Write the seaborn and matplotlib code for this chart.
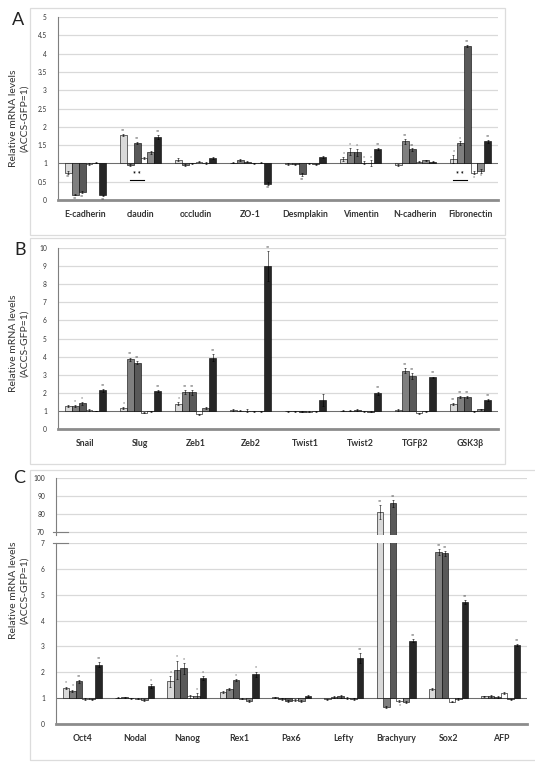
import matplotlib
matplotlib.use('Agg')

import numpy as np
import pandas as pd
import seaborn as sns
import matplotlib.pyplot as plt
from matplotlib.patches import Rectangle
from matplotlib.ticker import FormatStrFormatter

# --- series (six bars per gene, drawn from a baseline of 1) ---
series = ['s1', 's2', 's3', 's4', 's5', 's6']
colors = ['#d9d9d9', '#7f7f7f', '#595959', '#ffffff', '#8c8c8c', '#262626']

# --- panel A ---
a_genes = ['E-cadherin', 'claudin', 'occludin', 'ZO-1',
           'Desmplakin', 'Vimentin', 'N-cadherin', 'Fibronectin']
a_values = [
    [0.75, 0.15, 0.22, 0.98, 1.02, 0.13],
    [1.77, 0.95, 1.55, 1.15, 1.30, 1.72],
    [1.10, 0.95, 1.00, 1.05, 1.02, 1.15],
    [1.02, 1.10, 1.05, 1.00, 1.02, 0.45],
    [0.98, 0.97, 0.70, 1.00, 0.97, 1.17],
    [1.12, 1.32, 1.30, 1.02, 1.00, 1.40],
    [0.95, 1.60, 1.38, 1.05, 1.08, 1.05],
    [1.12, 1.55, 4.20, 0.75, 0.80, 1.60],
]
a_errors = [
    [0.03, 0.02, 0.03, 0.02, 0.02, 0.02],
    [0.03, 0.02, 0.03, 0.02, 0.05, 0.05],
    [0.04, 0.03, 0.02, 0.02, 0.03, 0.03],
    [0.02, 0.03, 0.02, 0.02, 0.02, 0.03],
    [0.02, 0.02, 0.05, 0.02, 0.02, 0.02],
    [0.05, 0.10, 0.10, 0.05, 0.08, 0.03],
    [0.03, 0.06, 0.03, 0.02, 0.02, 0.02],
    [0.10, 0.05, 0.03, 0.05, 0.05, 0.05],
]
a_marks = [
    ['**', '**', '**', '', '', '**'],
    ['**', '', '**', '', '', '**'],
    ['', '', '', '', '', ''],
    ['', '', '', '', '', '**'],
    ['', '', '**', '', '', ''],
    ['*', '*', '*', '*', '*', '**'],
    ['', '**', '**', '', '', ''],
    ['*', '*', '**', '*', '*', '**'],
]

# --- panel B ---
b_genes = ['Snail', 'Slug', 'Zeb1', 'Zeb2', 'Twist1', 'Twist2', 'TGFβ2', 'GSK3β']
b_values = [
    [1.25, 1.28, 1.42, 1.05, 1.00, 2.15],
    [1.15, 3.85, 3.65, 0.90, 0.97, 2.08],
    [1.40, 2.05, 2.02, 0.82, 1.15, 3.95],
    [1.05, 1.00, 1.02, 0.98, 0.97, 9.00],
    [0.98, 0.97, 0.96, 0.95, 0.98, 1.60],
    [1.00, 1.02, 1.05, 0.97, 0.95, 1.97],
    [1.05, 3.22, 2.92, 0.88, 0.97, 2.85],
    [1.38, 1.75, 1.75, 0.98, 1.08, 1.62],
]
b_errors = [
    [0.05, 0.05, 0.08, 0.03, 0.02, 0.08],
    [0.05, 0.10, 0.08, 0.03, 0.02, 0.05],
    [0.10, 0.10, 0.12, 0.03, 0.05, 0.20],
    [0.08, 0.03, 0.08, 0.03, 0.02, 0.85],
    [0.03, 0.03, 0.03, 0.03, 0.03, 0.35],
    [0.03, 0.03, 0.03, 0.03, 0.03, 0.10],
    [0.03, 0.15, 0.15, 0.03, 0.03, 0.05],
    [0.08, 0.05, 0.05, 0.03, 0.03, 0.05],
]
b_marks = [
    ['', '*', '*', '', '', '**'],
    ['*', '**', '**', '', '', '**'],
    ['*', '**', '**', '', '', '**'],
    ['', '', '', '', '', '**'],
    ['', '', '', '', '', ''],
    ['', '', '', '', '', '**'],
    ['', '**', '**', '', '', '**'],
    ['**', '**', '**', '', '', '**'],
]

# --- panel C (broken axis) ---
c_genes = ['Oct4', 'Nodal', 'Nanog', 'Rex1', 'Pax6', 'Lefty', 'Brachyury', 'Sox2', 'AFP']
c_values = [
    [1.40, 1.28, 1.65, 0.97, 0.95, 2.30],
    [1.02, 1.03, 1.00, 0.98, 0.93, 1.47],
    [1.65, 2.10, 2.15, 1.07, 1.10, 1.78],
    [1.23, 1.35, 1.70, 0.98, 0.90, 1.93],
    [1.03, 0.97, 0.90, 0.93, 0.88, 1.07],
    [0.95, 1.05, 1.07, 1.00, 0.97, 2.55],
    [81.0, 0.65, 86.0, 0.88, 0.85, 3.22],
    [1.35, 6.65, 6.60, 0.87, 0.97, 4.72],
    [1.07, 1.08, 1.05, 1.20, 0.95, 3.05],
]
c_errors = [
    [0.05, 0.05, 0.06, 0.03, 0.03, 0.08],
    [0.02, 0.02, 0.02, 0.02, 0.03, 0.06],
    [0.20, 0.35, 0.20, 0.05, 0.10, 0.08],
    [0.04, 0.04, 0.05, 0.03, 0.03, 0.10],
    [0.03, 0.03, 0.03, 0.03, 0.03, 0.04],
    [0.03, 0.05, 0.05, 0.03, 0.03, 0.20],
    [4.00, 0.03, 2.00, 0.03, 0.05, 0.05],
    [0.03, 0.12, 0.10, 0.03, 0.03, 0.08],
    [0.03, 0.03, 0.03, 0.05, 0.03, 0.05],
]
c_marks = [
    ['*', '*', '**', '', '', '**'],
    ['', '', '', '', '', '*'],
    ['*', '*', '*', '', '*', '*'],
    ['', '', '*', '', '', '*'],
    ['', '', '', '', '', ''],
    ['', '', '', '', '', '**'],
    ['**', '', '**', '*', '', '**'],
    ['', '**', '**', '', '', '**'],
    ['', '', '', '', '', '**'],
]

FONT = ['Lato', 'DejaVu Sans']
plt.rcParams['font.family'] = FONT

W, H = 535, 766
fig = plt.figure(figsize=(W / 100, H / 100), dpi=100)


def long_frame(genes, values):
    rows = []
    for g, vals in zip(genes, values):
        for s, v in zip(series, vals):
            rows.append({'gene': g, 'series': s, 'delta': v - 1})
    return pd.DataFrame(rows)


def style_axes(ax, ylim, ticks, bottom_spine=True):
    ax.set_ylim(*ylim)
    ax.set_yticks(ticks)
    ax.yaxis.set_major_formatter(FormatStrFormatter('%g'))
    ax.yaxis.grid(True, color='#d9d9d9', linewidth=0.9)
    ax.set_axisbelow(True)
    for side in ['top', 'right']:
        ax.spines[side].set_visible(False)
    ax.spines['left'].set_color('#7f7f7f')
    ax.spines['left'].set_linewidth(0.8)
    if bottom_spine:
        ax.spines['bottom'].set_color('#8c8c8c')
        ax.spines['bottom'].set_linewidth(2)
    else:
        ax.spines['bottom'].set_visible(False)
    ax.tick_params(axis='y', length=0, labelsize=4.8, labelcolor='#333333', pad=8)
    ax.tick_params(axis='x', length=0, labelsize=6.3, pad=7)
    for lab in ax.get_xticklabels():
        lab.set_fontweight('bold')
        lab.set_color('#333333')
    ax.set_xlabel('')
    ax.set_ylabel('')


def draw_bars(ax, genes, values, errors, marks, ylim, pad, annotate=True):
    df = long_frame(genes, values)
    sns.barplot(data=df, x='gene', y='delta', hue='series', palette=colors,
                bottom=1, width=0.75, errorbar=None, legend=False,
                edgecolor='black', linewidth=0.4, ax=ax)
    ax.set_xlim(-0.5, len(genes) - 0.5)
    ax.axhline(1, color='#595959', linewidth=0.6, zorder=0.8)
    bars = sorted(ax.patches, key=lambda p: p.get_x())
    vals = np.ravel(values)
    errs = np.ravel(errors)
    labs = np.ravel(marks)
    for bar, v, e, m in zip(bars, vals, errs, labs):
        x = bar.get_x() + bar.get_width() / 2
        if not (ylim[0] <= v <= ylim[1] or ylim[0] <= v + e <= ylim[1]):
            continue
        ax.errorbar(x, v, yerr=e, fmt='none', ecolor='black',
                    elinewidth=0.4, capsize=1, capthick=0.4)
        if annotate and m:
            if v >= 1:
                ax.text(x, v + e + pad, m, ha='center', va='bottom',
                        fontsize=3.5, color='#333333')
            else:
                ax.text(x, v - e - pad, m, ha='center', va='top',
                        fontsize=3.5, color='#333333')


def bracket(ax, gi, b0, b1, y):
    step = 0.75 / 6
    x0 = gi - 0.375 + step * (b0 + 0.5)
    x1 = gi - 0.375 + step * (b1 + 0.5)
    ax.plot([x0, x1], [y, y], color='black', linewidth=0.8)
    ax.text((x0 + x1) / 2, y + 0.05, '* *', ha='center', va='bottom',
            fontsize=5, fontweight='bold')


def panel_box(x0, y0, x1, y1):
    fig.add_artist(Rectangle((x0 / W, 1 - y1 / H), (x1 - x0) / W, (y1 - y0) / H,
                             transform=fig.transFigure, fill=False,
                             edgecolor='#dcdcdc', linewidth=0.9))


def ylabel(yc):
    fig.text(19 / W, 1 - yc / H, 'Relative mRNA levels\n(ACCS-GFP=1)',
             rotation=90, ha='center', va='center', fontsize=7.5,
             color='#333333', linespacing=1.3)


# --- panel A ---
axA = fig.add_axes([58 / W, 1 - 200 / H, 440 / W, 183 / H])
draw_bars(axA, a_genes, a_values, a_errors, a_marks, (0, 5), 0.02)
style_axes(axA, (0, 5), np.arange(0, 5.01, 0.5))
bracket(axA, 1, 1, 3, 0.55)
bracket(axA, 7, 0, 2, 0.55)

# --- panel B ---
axB = fig.add_axes([58 / W, 1 - 429 / H, 440 / W, 181 / H])
draw_bars(axB, b_genes, b_values, b_errors, b_marks, (0, 10), 0.05)
style_axes(axB, (0, 10), np.arange(0, 11, 1))

# --- panel C, lower and upper parts ---
axC = fig.add_axes([56 / W, 1 - 724 / H, 471 / W, 181 / H])
draw_bars(axC, c_genes, c_values, c_errors, c_marks, (0, 7), 0.04)
style_axes(axC, (0, 7), np.arange(0, 8, 1))

axU = fig.add_axes([56 / W, 1 - 535 / H, 471 / W, 57 / H])
draw_bars(axU, c_genes, c_values, c_errors, c_marks, (70, 100), 0.5)
style_axes(axU, (68.3, 100), [70, 80, 90, 100], bottom_spine=False)
axU.set_xticks([])

# break marks on the y axis
axU.plot([-0.006, 0.025], [70, 70], transform=axU.get_yaxis_transform(),
         color='#7f7f7f', linewidth=0.8, clip_on=False)
axC.plot([-0.006, 0.025], [7, 7], transform=axC.get_yaxis_transform(),
         color='#7f7f7f', linewidth=0.8, clip_on=False)

# --- frames, panel letters, axis titles ---
panel_box(30, 8, 505, 235)
panel_box(30, 238, 505, 464)
panel_box(30, 470, 540, 760)

fig.text(18 / W, 1 - 20 / H, 'A', fontsize=13, ha='center', va='center', color='#222222')
fig.text(20 / W, 1 - 250 / H, 'B', fontsize=13, ha='center', va='center', color='#222222')
fig.text(19 / W, 1 - 478 / H, 'C', fontsize=13, ha='center', va='center', color='#222222')

ylabel(118)
ylabel(343)
ylabel(590)

fig.savefig('out.png', dpi=100)
